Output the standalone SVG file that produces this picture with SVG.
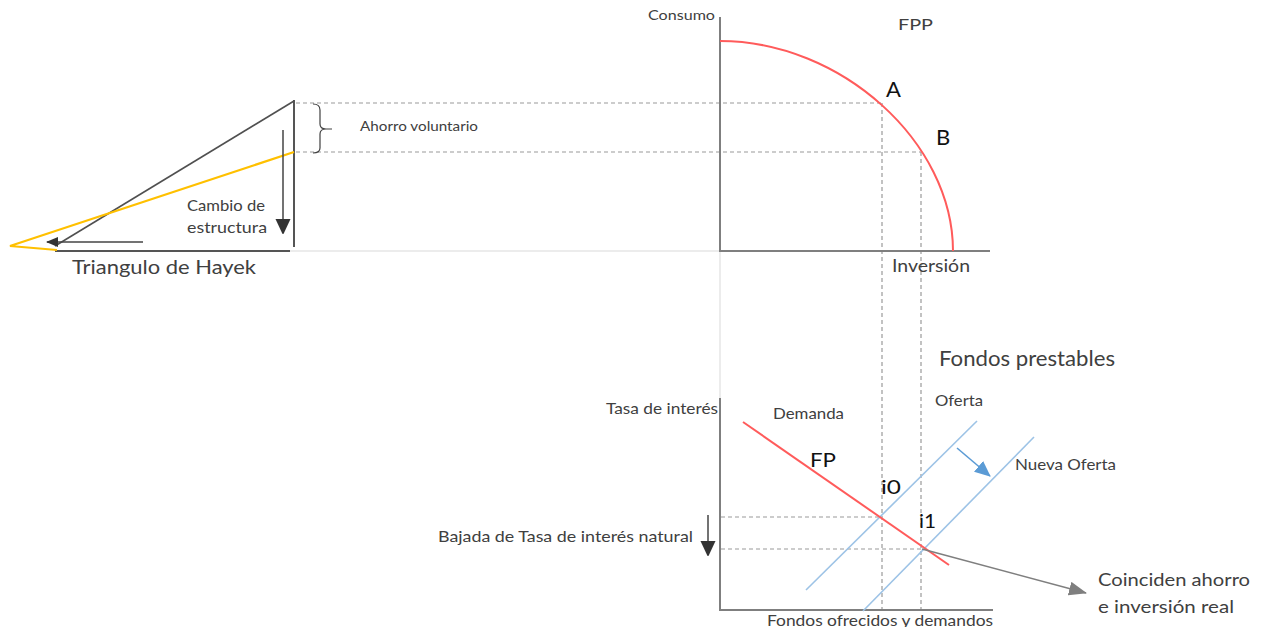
<svg xmlns="http://www.w3.org/2000/svg" width="1263" height="627" viewBox="0 0 1263 627">
<style>
text{font-family:Lato,"Liberation Sans",sans-serif;fill:#404040}
.lbl{fill:#3a3a3a}
.big{font-family:Lato,"Liberation Sans",sans-serif;fill:#111}
.axis{stroke:#7f7f7f;stroke-width:2;fill:none}
.faint{stroke:#e6e6e6;stroke-width:1.5;fill:none}
.dash{stroke:#9a9a9a;stroke-width:1.2;stroke-dasharray:4 3;fill:none}
.red{stroke:#ff5b5b;stroke-width:2;fill:none}
.blue{stroke:#9dc3e6;stroke-width:1.6;fill:none}
.dark{stroke:#505050;stroke-width:1.6;fill:none}
.gold{stroke:#ffc000;stroke-width:2.2;fill:none;stroke-linejoin:miter}
</style>
<defs>
<marker id="mDark" markerWidth="12" markerHeight="10" refX="11" refY="5" orient="auto" markerUnits="userSpaceOnUse"><path d="M0,0 L12,5 L0,10 Z" fill="#333"/></marker>
<marker id="mDown" markerWidth="14" markerHeight="16" refX="15" refY="7.5" orient="auto" markerUnits="userSpaceOnUse"><path d="M0,0 L16,7.5 L0,15 Z" fill="#333"/></marker>
<marker id="mGray" markerWidth="18" markerHeight="14" refX="17" refY="7" orient="auto" markerUnits="userSpaceOnUse"><path d="M0,0 L18,7 L0,14 Z" fill="#7f7f7f"/></marker>
<marker id="mBlue" markerWidth="16" markerHeight="14" refX="15" refY="7" orient="auto" markerUnits="userSpaceOnUse"><path d="M0,0 L16,7 L0,14 Z" fill="#5b9bd5"/></marker>
</defs>

<g id="guides">
<line class="faint" x1="290" y1="251" x2="720" y2="251"/>
<line class="faint" x1="720" y1="252" x2="720" y2="398"/>
<line class="dash" x1="296" y1="103" x2="882" y2="103"/>
<line class="dash" x1="296" y1="152" x2="921" y2="152"/>
<line class="dash" x1="882" y1="103" x2="882" y2="610"/>
<line class="dash" x1="921" y1="152" x2="921" y2="610"/>
<line class="dash" x1="721" y1="517" x2="882" y2="517"/>
<line class="dash" x1="721" y1="549" x2="921" y2="549"/>
</g>

<g id="hayek">
<line x1="55" y1="251" x2="290" y2="251" stroke="#555" stroke-width="2"/>
<line x1="294" y1="100" x2="294" y2="247" stroke="#555" stroke-width="2"/>
<line class="dark" x1="294" y1="101" x2="55" y2="246"/>
<polyline class="gold" points="294,152 10,246 57,250"/>
<path d="M313,104 Q320,104 320,110 V124 Q320,129 326,129 H332 M326,129 Q320,129 320,134 V148 Q320,153 313,153" stroke="#404040" stroke-width="1.2" fill="none"/>
<text x="360" y="131" font-size="12.5" textLength="118" lengthAdjust="spacingAndGlyphs">Ahorro voluntario</text>
<text x="187" y="211" font-size="16" textLength="78" lengthAdjust="spacingAndGlyphs">Cambio de</text>
<text x="187" y="233" font-size="16" textLength="80" lengthAdjust="spacingAndGlyphs">estructura</text>
<text x="72" y="274" font-size="19.5" textLength="184" lengthAdjust="spacingAndGlyphs">Triangulo de Hayek</text>
</g>

<g id="fpp">
<line class="axis" x1="720" y1="17" x2="720" y2="251"/>
<line class="axis" x1="719" y1="251" x2="990" y2="251"/>
<path class="red" d="M720,41 C841,41 953,142 953,251"/>
<text x="648" y="20" font-size="14" textLength="67" lengthAdjust="spacingAndGlyphs">Consumo</text>
<text x="898" y="30" font-size="16" textLength="35" lengthAdjust="spacingAndGlyphs">FPP</text>
<text class="big" x="886" y="97" font-size="22">A</text>
<text class="big" x="936" y="145" font-size="22">B</text>
<text x="892" y="272" font-size="17" textLength="78" lengthAdjust="spacingAndGlyphs">Inversión</text>
</g>

<g id="fondos">
<text x="939" y="366" font-family="'Liberation Sans',sans-serif" font-size="22" fill="#111" textLength="176" lengthAdjust="spacingAndGlyphs">Fondos prestables</text>
<line class="axis" x1="720" y1="398" x2="720" y2="611"/>
<line class="axis" x1="719" y1="610" x2="993" y2="610"/>
<line class="blue" x1="806" y1="590" x2="977" y2="421"/>
<line class="blue" x1="863" y1="611" x2="1034" y2="437"/>
<line class="red" x1="743" y1="422" x2="949" y2="565"/>
<text x="606" y="414" font-size="15" textLength="112" lengthAdjust="spacingAndGlyphs">Tasa de interés</text>
<text x="773" y="419" font-size="15" textLength="71" lengthAdjust="spacingAndGlyphs">Demanda</text>
<text x="935" y="406" font-size="15" textLength="48" lengthAdjust="spacingAndGlyphs">Oferta</text>
<text x="1015" y="470" font-size="15" textLength="101" lengthAdjust="spacingAndGlyphs">Nueva Oferta</text>
<text class="big" x="810" y="467" font-size="20" textLength="26" lengthAdjust="spacingAndGlyphs">FP</text>
<text class="big" x="881" y="494" font-size="20" textLength="20" lengthAdjust="spacingAndGlyphs">i0</text>
<text class="big" x="919" y="528" font-size="20" textLength="17" lengthAdjust="spacingAndGlyphs">i1</text>
<text x="438" y="542" font-size="16" textLength="255" lengthAdjust="spacingAndGlyphs">Bajada de Tasa de interés natural</text>
<text x="767" y="626" font-size="16" textLength="226" lengthAdjust="spacingAndGlyphs">Fondos ofrecidos y demandos</text>
<text x="1098" y="586" font-size="18" fill="#333" textLength="152" lengthAdjust="spacingAndGlyphs">Coinciden ahorro</text>
<text x="1098" y="613" font-size="18" fill="#333" textLength="136" lengthAdjust="spacingAndGlyphs">e inversión real</text>
</g>

<g id="connectors">
<line x1="143" y1="242" x2="47" y2="242" stroke="#444" stroke-width="1.3" marker-end="url(#mDark)"/>
<line x1="283" y1="130" x2="283" y2="234" stroke="#444" stroke-width="1.5" marker-end="url(#mDown)"/>
<line x1="708" y1="515" x2="708" y2="556" stroke="#444" stroke-width="1.5" marker-end="url(#mDown)"/>
<line x1="957" y1="448" x2="990" y2="476" stroke="#5b9bd5" stroke-width="1.6" marker-end="url(#mBlue)"/>
<line x1="922" y1="549" x2="1086" y2="593" stroke="#7f7f7f" stroke-width="1.6" marker-end="url(#mGray)"/>
</g>
</svg>
